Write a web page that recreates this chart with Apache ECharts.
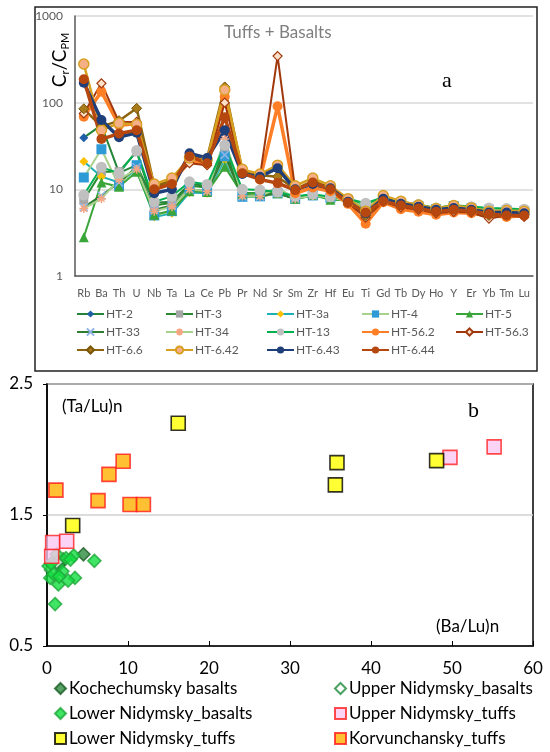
<!DOCTYPE html>
<html>
<head>
<meta charset="utf-8">
<script src="https://cdn.jsdelivr.net/npm/echarts@6/dist/echarts.min.js"></script>
<style>html,body{margin:0;padding:0;background:#fff}#c{width:550px;height:752px}</style>
</head>
<body>
<div id="c"></div>
<script>
// ---------- Panel a data ----------
const categories = ['Rb','Ba','Th','U','Nb','Ta','La','Ce','Pb','Pr','Nd','Sr','Sm','Zr','Hf','Eu','Ti','Gd','Tb','Dy','Ho','Y','Er','Yb','Tm','Lu'];
const yTicksA = [1, 10, 100, 1000];
const ht2   = [39.5, 55, 15.5, 19, 7, 7.2, 11.5, 11, 27, 9, 9, 10, 8, 8.6, 8, 7.5, 6.3, 7.9, 7, 6.5, 6, 6.4, 6.1, 5.9, 5.8, 5.7];
const ht3   = [7.5, 16, 16, 27, 6.5, 7, 11, 10.5, 30, 9, 9, 9, 7.9, 8.5, 8, 7.6, 6.3, 8, 7, 6.5, 6, 6.4, 6.1, 5.9, 5.8, 5.7];
const ht3a  = [21, 14, 12, 17, 4.8, 5.3, 9.2, 9, 22, 8.2, 8.2, 9, 7.7, 8.5, 7.9, 7.3, 6, 7.8, 6.8, 6.3, 5.8, 6.3, 6, 5.8, 5.7, 5.6];
const ht4   = [13.7, 29, 11, 19, 5, 5.6, 10, 9.5, 24, 8.2, 8.3, 9, 7.8, 8.5, 8, 7.4, 6.2, 7.8, 6.9, 6.4, 5.9, 6.4, 6, 5.8, 5.7, 5.6];
const ht5   = [2.8, 12, 10.7, 16, 5.1, 5.7, 9.5, 9.3, 18.2, 8.8, 9, 9, 7.8, 8.6, 7.6, 7.5, 6.5, 8, 7, 6.6, 6.1, 6.6, 6.3, 6, 5.9, 5.8];
const ht33  = [6.2, 8.5, 12, 18, 5.8, 6.5, 10, 9.5, 25, 8.3, 8.3, 9, 7.8, 8.5, 8, 7.4, 6.2, 7.8, 6.9, 6.4, 5.9, 6.4, 6, 5.8, 5.7, 5.6];
const ht34  = [6, 7.8, 13, 17, 5.6, 6.3, 10, 9.5, 38, 8.4, 8.3, 10.5, 7.8, 8.5, 8, 7.4, 6.3, 7.9, 6.9, 6.4, 5.9, 6.4, 6.1, 5.8, 5.7, 5.6];
const ht13  = [8.6, 18, 15.3, 28, 7.2, 8.3, 12.2, 11.4, 32.4, 10, 9.8, 9.3, 8.3, 8.8, 8.2, 7.8, 6.9, 8.1, 7.2, 6.7, 6.1, 6.5, 6.3, 6.1, 6, 5.9];
const ht562 = [69, 134, 55, 57, 10.5, 12, 21, 20, 117, 16, 13, 91, 9, 10.5, 9.5, 6.8, 4, 7.1, 5.9, 5.5, 5.1, 5.4, 5.3, 5.0, 4.8, 5.0];
const ht563 = [75, 167, 60, 60, 10, 13, 20, 19, 100, 16, 14, 345, 10, 11.5, 10, 7, 4.7, 7.2, 6.2, 5.8, 5.3, 5.5, 5.4, 4.6, 5.0, 4.8];
const ht66  = [85, 53, 62, 86, 11, 12.5, 24, 23, 152, 16, 14.5, 14, 10, 12.5, 10.5, 7.5, 5, 7.8, 6.8, 6.2, 5.6, 5.9, 5.6, 5.0, 5.1, 5.1];
const ht642 = [279, 48, 58, 56, 11.5, 13.5, 23, 22, 140, 17, 15, 19, 11, 13.5, 11, 7.8, 5.6, 8.5, 7.3, 6.6, 6, 6.5, 6.1, 5.6, 5.7, 5.6];
const ht643 = [170, 63, 40, 45, 9, 10, 26, 23, 48, 15, 14, 17.5, 10, 11.5, 10.3, 7.2, 5.3, 7.8, 6.8, 6.3, 5.8, 6.1, 5.8, 5.4, 5.4, 5.3];
const ht644 = [186, 38, 44, 48, 10, 11.5, 24, 20, 68, 15.3, 13, 11.8, 9.8, 12, 10, 7, 5.4, 7.3, 6.5, 6, 5.5, 5.8, 5.6, 5.2, 5.0, 5.0];

// ---------- Panel b data: [ (Ba/Lu)n, (Ta/Lu)n ] ----------
const xTicksB = [0, 10, 20, 30, 40, 50, 60];
const yTicksB = [0.5, 1.5, 2.5];
const kochechumskyBasalts = [[4.5, 1.2], [2.0, 1.16], [1.5, 1.12], [0.8, 1.1]];
const upperNidymskyBasalts = [[0.5, 1.08], [1.2, 1.14]];
const lowerNidymskyBasalts = [[1.0, 0.82], [5.85, 1.15], [3.3, 1.19], [3.45, 1.02], [1.4, 0.97], [0.4, 1.02], [0.2, 1.11], [1.9, 1.07], [2.6, 1.0], [2.35, 1.17], [0.8, 1.05], [1.5, 1.03], [2.9, 1.16], [0.5, 1.13], [1.2, 1.2]];
const upperNidymskyTuffs = [[0.58, 1.185], [0.7, 1.29], [2.43, 1.30], [49.75, 1.94], [55.2, 2.02]];
const lowerNidymskyTuffs = [[3.17, 1.42], [16.2, 2.20], [35.8, 1.90], [35.6, 1.73], [48.1, 1.915]];
const korvunchanskyTuffs = [[1.1, 1.69], [6.3, 1.61], [7.65, 1.81], [9.4, 1.91], [10.25, 1.58], [11.9, 1.58]];

const FONT = 'Lato';
const X_PATH = 'path://M0,0L10,10M10,0L0,10';
const AST_PATH = 'path://M5,0L5,10M0,5L10,5M1.5,1.5L8.5,8.5M8.5,1.5L1.5,8.5';
const DASH_PATH = 'path://M0,4L10,4L10,6L0,6Z';

const seriesDefs = [
  {name:'HT-2', data:ht2, line:'#23853a', w:2, sym:'diamond', size:9, fill:'#1f5fa8'},
  {name:'HT-3', data:ht3, line:'#2a8a30', w:2, sym:DASH_PATH, size:9, fill:'#a6a6a6'},
  {name:'HT-3a', data:ht3a, line:'#1fb0b5', w:2, sym:'diamond', size:9, fill:'#ffc000'},
  {name:'HT-4', data:ht4, line:'#a9d18e', w:2, sym:'rect', size:10, fill:'#2e9bd6'},
  {name:'HT-5', data:ht5, line:'#3aa63a', w:2, sym:'triangle', size:10, fill:'#3aa63a'},
  {name:'HT-33', data:ht33, line:'#2e7d32', w:2, sym:X_PATH, size:8, fill:'#8fb4e3', border:'#8fb4e3', bw:1.5},
  {name:'HT-34', data:ht34, line:'#a9d18e', w:2, sym:AST_PATH, size:9, fill:'#f4a582', border:'#f4a582', bw:1.5},
  {name:'HT-13', data:ht13, line:'#00b050', w:2, sym:'circle', size:11, fill:'#c0c0c0'},
  {name:'HT-56.2', data:ht562, line:'#ff7f27', w:3.5, sym:'circle', size:10, fill:'#ff7f27'},
  {name:'HT-56.3', data:ht563, line:'#a0380c', w:2, sym:'diamond', size:9, fill:'#fbe0c8', border:'#a0380c', bw:1.2},
  {name:'HT-6.6', data:ht66, line:'#8c6410', w:2.5, sym:'diamond', size:10, fill:'#a87a1a', border:'#7a5508', bw:1},
  {name:'HT-6.42', data:ht642, line:'#d8a020', w:2.5, sym:'circle', size:10, fill:'#f6b088', border:'#d8a020', bw:1.5},
  {name:'HT-6.43', data:ht643, line:'#1f3f7a', w:3.5, sym:'circle', size:10, fill:'#1f3f7a'},
  {name:'HT-6.44', data:ht644, line:'#b5470f', w:3.5, sym:'circle', size:10, fill:'#b5470f'}
];

const series = seriesDefs.map(d => ({
  name: d.name, type: 'line', xAxisIndex: 0, yAxisIndex: 0,
  data: d.data, symbol: d.sym, symbolSize: d.size, showSymbol: true,
  lineStyle: {color: d.line, width: d.w},
  itemStyle: {color: d.fill, borderColor: d.border || d.fill, borderWidth: d.bw || 0},
  emphasis: {disabled: true}, animation: false, z: 2
}));

const scatterDefs = [
  {name:'Kochechumsky basalts', data:kochechumskyBasalts, sym:'diamond', size:13, fill:'#2e8b3e', border:'#1a5c26'},
  {name:'Upper Nidymsky_basalts', data:upperNidymskyBasalts, sym:'diamond', size:13, fill:'#ffffff', border:'#1e8a3a'},
  {name:'Lower Nidymsky_basalts', data:lowerNidymskyBasalts, sym:'diamond', size:13, fill:'#12de40', border:'#1ea83a'},
  {name:'Upper Nidymsky_tuffs', data:upperNidymskyTuffs, sym:'rect', size:14, fill:'#fac8f2', border:'#ff2020'},
  {name:'Lower Nidymsky_tuffs', data:lowerNidymskyTuffs, sym:'rect', size:14, fill:'#ffff00', border:'#000000'},
  {name:'Korvunchansky_tuffs', data:korvunchanskyTuffs, sym:'rect', size:14, fill:'#ffb000', border:'#ff1a1a'}
];
scatterDefs.forEach(d => series.push({
  name: d.name, type: 'scatter', xAxisIndex: 1, yAxisIndex: 1,
  data: d.data, symbol: d.sym, symbolSize: d.size,
  itemStyle: {color: d.fill, borderColor: d.border, borderWidth: 1.6},
  emphasis: {disabled: true}, animation: false
}));

// legends for panel a (table-like layout)
const legCols = [76, 165, 266, 361, 455];
const legRows = [308, 326, 344];
const legends = seriesDefs.map((d, i) => ({
  data: [d.name], left: legCols[i % 5], top: legRows[Math.floor(i / 5)],
  itemWidth: 27, itemHeight: 9, itemGap: 0, padding: 0, selectedMode: false,
  textStyle: {color: '#595959', fontSize: 12, fontFamily: FONT, padding: [0,0,0,-3]}
}));
// legends for panel b
const legBCols = [54, 334];
const legBRows = [680, 705, 730];
const orderB = [[0,0],[1,1],[0,2],[1,3],[0,4],[1,5]]; // [col, series idx]
const rowOf = [0,0,1,1,2,2];
orderB.forEach((o, k) => legends.push({
  data: [scatterDefs[o[1]].name], left: legBCols[o[0]], top: legBRows[rowOf[k]],
  itemWidth: 11, itemHeight: 11, padding: 0, selectedMode: false,
  textStyle: {color: '#000', fontSize: 17, fontFamily: FONT, padding: [0,0,0,-2]}
}));

const chart = echarts.init(document.getElementById('c'), null, {renderer: 'canvas'});
chart.setOption({
  backgroundColor: '#fff',
  animation: false,
  legend: legends,
  grid: [
    {left: 75, right: 17, top: 16, height: 260, containLabel: false},
    {left: 47, right: 17, top: 384, height: 262, show: true, borderColor: '#000', borderWidth: 1.5, containLabel: false}
  ],
  xAxis: [
    {gridIndex: 0, type: 'category', data: categories, boundaryGap: true,
     axisLine: {lineStyle: {color: '#595959', width: 1.5}}, axisTick: {show: false},
     axisLabel: {interval: 0, color: '#595959', fontSize: 11, fontFamily: FONT, margin: 12}},
    {gridIndex: 1, type: 'value', min: xTicksB[0], max: xTicksB[xTicksB.length-1], interval: 10,
     axisLine: {lineStyle: {color: '#000', width: 1.5}},
     axisTick: {show: true, inside: true, length: 5, lineStyle: {color: '#000'}},
     splitLine: {show: false},
     axisLabel: {color: '#000', fontSize: 17, fontFamily: FONT, margin: 14}}
  ],
  yAxis: [
    {gridIndex: 0, type: 'log', logBase: 10, min: yTicksA[0], max: yTicksA[yTicksA.length-1],
     axisLine: {show: true, lineStyle: {color: '#595959', width: 1.5}}, axisTick: {show: false},
     splitLine: {show: true, lineStyle: {color: '#d9d9d9', width: 1.5}},
     minorSplitLine: {show: false},
     axisLabel: {color: '#595959', fontSize: 12, fontFamily: FONT, margin: 12, formatter: v => String(Math.round(v))}},
    {gridIndex: 1, type: 'value', min: yTicksB[0], max: yTicksB[yTicksB.length-1], interval: 1,
     axisLine: {show: true, lineStyle: {color: '#000', width: 1.5}},
     axisTick: {show: true, length: 4, lineStyle: {color: '#000'}},
     splitLine: {show: true, lineStyle: {color: '#d0d0d0', width: 1.5}},
     axisLabel: {color: '#000', fontSize: 17, fontFamily: FONT, margin: 14, formatter: v => v.toFixed(1)}}
  ],
  graphic: [
    {type: 'rect', shape: {x: 35, y: 7, width: 502, height: 364}, style: {fill: 'none', stroke: '#222', lineWidth: 1.5}, z: 0, silent: true},
    {type: 'text', x: 224, y: 24, silent: true, style: {text: 'Tuffs + Basalts', fill: '#7f7f7f', fontSize: 17, fontFamily: FONT}},
    {type: 'text', x: 442, y: 70, silent: true, style: {text: 'a', fill: '#000', fontSize: 22, fontFamily: 'Liberation Serif'}},
    {type: 'text', x: 60, y: 60, rotation: Math.PI / 2, silent: true,
     style: {text: '{c|C}{s|r}{c|/C}{s|PM}', align: 'center', verticalAlign: 'middle', fill: '#000',
       rich: {c: {fontSize: 19, fontFamily: FONT, lineHeight: 22, verticalAlign: 'middle', fill: '#000'},
              s: {fontSize: 11, fontFamily: FONT, lineHeight: 11, verticalAlign: 'bottom', fill: '#000'}}}},
    {type: 'text', x: 62, y: 398, silent: true, style: {text: '(Ta/Lu)n', fill: '#000', fontSize: 17, fontFamily: FONT}},
    {type: 'text', x: 436, y: 618, silent: true, style: {text: '(Ba/Lu)n', fill: '#000', fontSize: 17, fontFamily: FONT}},
    {type: 'text', x: 468, y: 400, silent: true, style: {text: 'b', fill: '#000', fontSize: 22, fontFamily: 'Liberation Serif'}}
  ],
  series: series
});
</script>
</body>
</html>
